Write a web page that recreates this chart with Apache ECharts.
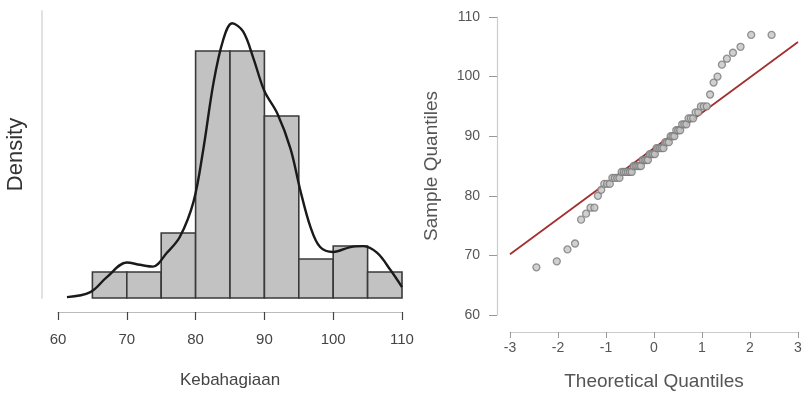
<!DOCTYPE html>
<html>
<head>
<meta charset="utf-8">
<script src="https://cdn.jsdelivr.net/npm/echarts@6/dist/echarts.min.js"></script>
<style>
  html, body { margin: 0; padding: 0; background: #fff; }
  #main { width: 808px; height: 396px; }
</style>
</head>
<body>
<div id="main"></div>
<script>
// histogram (density scale), bins of width 5
var binStart = [65, 70, 75, 80, 85, 90, 95, 100, 105];
var binWidth = 5;
var binDensity = [0.00571, 0.00571, 0.01429, 0.05429, 0.05429, 0.04, 0.00857, 0.01143, 0.00571];

// kernel density curve
var kdeX = [61.3, 64.7, 67.1, 70, 71.9, 73.8, 75.8, 77.7, 79.7, 81.1, 82.6, 84, 85.3, 86.9,
  88.4, 90, 91.9, 93.8, 95.2, 96.7, 98.1, 100, 102.5, 104.4, 106.4, 108.3, 110];
var kdeY = [0.0002, 0.0013, 0.0046, 0.0078, 0.0073, 0.0069, 0.0099, 0.0134, 0.0212, 0.0325,
  0.0473, 0.0567, 0.0604, 0.0586, 0.0527, 0.0455, 0.0405, 0.0328, 0.0238, 0.0156, 0.0112,
  0.0101, 0.0112, 0.0114, 0.0099, 0.0062, 0.0024];

// normal Q-Q plot
var theoQ = [-2.45, -2.025, -1.803, -1.645, -1.519, -1.415, -1.323, -1.242, -1.168, -1.099,
  -1.036, -0.977, -0.921, -0.867, -0.816, -0.767, -0.72, -0.674, -0.63, -0.587,
  -0.545, -0.504, -0.464, -0.424, -0.385, -0.347, -0.309, -0.272, -0.235, -0.198,
  -0.162, -0.126, -0.09, -0.054, -0.018, 0.018, 0.054, 0.09, 0.126, 0.162,
  0.198, 0.235, 0.272, 0.309, 0.347, 0.385, 0.424, 0.464, 0.504, 0.545,
  0.587, 0.63, 0.674, 0.72, 0.767, 0.816, 0.867, 0.921, 0.977, 1.036,
  1.099, 1.168, 1.242, 1.323, 1.415, 1.519, 1.645, 1.803, 2.025, 2.45];
var sampleQ = [68, 69, 71, 72, 76, 77, 78, 78, 80, 81,
  82, 82, 82, 83, 83, 83, 83, 84, 84, 84,
  84, 84, 84, 85, 85, 85, 85, 85, 86, 86,
  86, 86, 87, 87, 87, 87, 88, 88, 88, 88,
  88, 89, 89, 89, 90, 90, 90, 91, 91, 91,
  92, 92, 92, 93, 93, 93, 94, 94, 95, 95,
  95, 97, 99, 100, 102, 103, 104, 105, 107, 107];
var qqLine = [[-3, 70.2], [3, 105.8]];

var font = "'Liberation Sans', Arial, sans-serif";

function drawCharts(id) {
  var chart = echarts.init(document.getElementById(id), null, { renderer: "canvas" });

  var histData = binStart.map(function (s, i) {
    return [s, s + binWidth, binDensity[i]];
  });
  var kdeData = kdeX.map(function (x, i) {
    return [x, kdeY[i]];
  });
  var qqData = theoQ.map(function (x, i) {
    return [x, sampleQ[i]];
  });

  chart.setOption({
    animation: false,
    backgroundColor: "#fff",
    textStyle: { fontFamily: font },
    grid: [
      { left: 58, top: 11, width: 344, height: 287 },
      { left: 510, top: 17, width: 288, height: 298 }
    ],
    xAxis: [
      {
        gridIndex: 0,
        type: "value",
        min: 60,
        max: 110,
        interval: 10,
        offset: 14,
        name: "Kebahagiaan",
        nameLocation: "middle",
        nameGap: 60,
        nameTextStyle: { fontSize: 17, color: "#444", fontFamily: font },
        axisLine: { onZero: false, lineStyle: { color: "#bbb", width: 1.2 } },
        axisTick: { length: 8, lineStyle: { color: "#444", width: 1.2 } },
        axisLabel: { fontSize: 15, color: "#444", margin: 20, fontFamily: font },
        splitLine: { show: false }
      },
      {
        gridIndex: 1,
        type: "value",
        min: -3,
        max: 3,
        interval: 1,
        offset: 17,
        name: "Theoretical Quantiles",
        nameLocation: "middle",
        nameGap: 40,
        nameTextStyle: { fontSize: 19, color: "#555", fontFamily: font },
        axisLine: { onZero: false, lineStyle: { color: "#ccc", width: 1.2 } },
        axisTick: { length: 6, lineStyle: { color: "#999" } },
        axisLabel: { fontSize: 14, color: "#555", margin: 9, fontFamily: font },
        splitLine: { show: false }
      }
    ],
    yAxis: [
      {
        gridIndex: 0,
        type: "value",
        min: 0,
        max: 0.0631,
        offset: 16,
        name: "Density",
        nameLocation: "middle",
        nameGap: 15,
        nameTextStyle: { fontSize: 22, color: "#333", fontFamily: font },
        axisLine: { show: true, onZero: false, lineStyle: { color: "#e2e2e2", width: 2 } },
        axisTick: { show: false },
        axisLabel: { show: false },
        splitLine: { show: false }
      },
      {
        gridIndex: 1,
        type: "value",
        min: 60,
        max: 110,
        interval: 10,
        offset: 13,
        name: "Sample Quantiles",
        nameLocation: "middle",
        nameGap: 56,
        nameTextStyle: { fontSize: 19, color: "#555", fontFamily: font },
        axisLine: { show: true, onZero: false, lineStyle: { color: "#ccc", width: 1.2 } },
        axisTick: { show: true, length: 8, lineStyle: { color: "#999" } },
        axisLabel: { fontSize: 14, color: "#555", margin: 17, fontFamily: font },
        splitLine: { show: false }
      }
    ],
    series: [
      {
        name: "hist",
        type: "custom",
        xAxisIndex: 0,
        yAxisIndex: 0,
        data: histData,
        encode: { x: [0, 1], y: 2 },
        renderItem: function (params, api) {
          var p0 = api.coord([api.value(0), api.value(2)]);
          var p1 = api.coord([api.value(1), 0]);
          return {
            type: "rect",
            shape: { x: p0[0], y: p0[1], width: p1[0] - p0[0], height: p1[1] - p0[1] },
            style: { fill: "#c2c2c2", stroke: "#3a3a3a", lineWidth: 1.6 }
          };
        },
        z: 2
      },
      {
        name: "density",
        type: "line",
        xAxisIndex: 0,
        yAxisIndex: 0,
        data: kdeData,
        smooth: 0.35,
        showSymbol: false,
        lineStyle: { color: "#1a1a1a", width: 2.4 },
        z: 3
      },
      {
        name: "qqline",
        type: "line",
        xAxisIndex: 1,
        yAxisIndex: 1,
        data: qqLine,
        showSymbol: false,
        lineStyle: { color: "#a3302f", width: 1.8 },
        z: 2
      },
      {
        name: "qq",
        type: "scatter",
        xAxisIndex: 1,
        yAxisIndex: 1,
        data: qqData,
        symbol: "circle",
        symbolSize: 7,
        itemStyle: { color: "#c4c4c4", borderColor: "#7a7a7a", borderWidth: 1.3 },
        z: 3
      }
    ]
  });
}

drawCharts("main");
</script>
</body>
</html>
